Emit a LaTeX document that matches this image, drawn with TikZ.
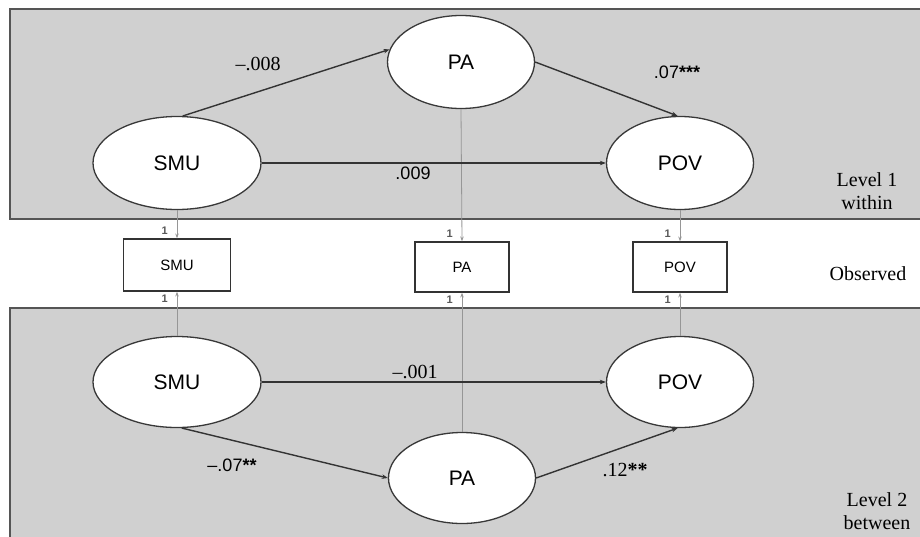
\documentclass[tikz,border=0pt]{standalone}
\usepackage{fontspec}
\setmainfont{Liberation Serif}
\setsansfont{Liberation Sans}
\usetikzlibrary{arrows.meta, shapes.geometric, positioning}
\definecolor{panelgray}{RGB}{208,208,208}
\definecolor{edgegray}{RGB}{85,85,85}
\definecolor{linkgray}{RGB}{150,150,150}
\newcommand{\stars}[1]{\textbf{#1}}
\tikzset{
  >=Stealth,
  latent/.style  = {draw=black!78, ellipse, line width=1.3pt, fill=white,
                    minimum width=147pt, minimum height=93pt, inner sep=0pt,
                    font=\sffamily\fontsize{21}{21}\selectfont},
  obs/.style     = {draw=black!80, rectangle, line width=1.2pt, fill=white,
                    minimum width=94pt, minimum height=50pt, inner sep=0pt,
                    font=\sffamily\fontsize{15}{15}\selectfont},
  level/.style   = {draw=edgegray, line width=1.8pt, fill=panelgray},
  regr/.style    = {-{Stealth[length=6pt, width=4.5pt]}, line width=1.4pt, black!80},
  loading/.style = {-{Stealth[length=5pt, width=3.5pt]}, line width=0.8pt, linkgray},
  coef/.style    = {font=\sffamily\fontsize{18}{18}\selectfont, text=black},
  coefr/.style   = {font=\fontsize{20}{20}\selectfont, text=black},
  one/.style     = {font=\sffamily\bfseries\fontsize{11}{11}\selectfont,
                    text=black!65, inner sep=0pt},
  tag/.style     = {font=\fontsize{20}{23}\selectfont, align=center, text=black},
}

\begin{document}
\begin{tikzpicture}[x=1pt, y=-1pt]
  \path[use as bounding box, clip] (0,0) rectangle (920,536);

  % panels
  \draw[level] (10,9) rectangle (940,219);
  \draw[level] (10,308) rectangle (940,560);

  % level 1 (within)
  \node[latent, minimum width=168pt] (smuW) at (177,163) {SMU};
  \node[latent]                      (paW)  at (461,62)  {PA};
  \node[latent]                      (povW) at (680,163) {POV};

  % observed
  \node[obs, minimum width=107pt, minimum height=52pt] (smuO) at (177,265) {SMU};
  \node[obs] (paO)  at (462,267) {PA};
  \node[obs] (povO) at (680,267) {POV};

  % level 2 (between)
  \node[latent, minimum width=168pt, minimum height=91pt] (smuB) at (177,382) {SMU};
  \node[latent, minimum height=91pt] (povB) at (680,382) {POV};
  \node[latent, minimum height=91pt] (paB)  at (462,478) {PA};

  % loadings
  \foreach \n in {smu, pa, pov} {
    \draw[loading] (\n W.south) -- (\n O.north);
    \draw[loading] (\n B.north) -- (\n O.south);
    \node[one, above left=4pt and 9pt of \n O.north] {1};
    \node[one, below left=3pt and 9pt of \n O.south] {1};
  }

  % structural paths
  \draw[regr] (smuW.83)   -- (paW.170);
  \draw[regr] (paW.east)  -- (povW.93);
  \draw[regr] (smuW.east) -- (povW.west);
  \draw[regr] (smuB.east) -- (povB.west);
  \draw[regr] (smuB.-84)  -- (paB.west);
  \draw[regr] (paB.east)  -- (povB.-93);

  \node[coefr] (c1) at (258,64)  {--.008};
  \node[coef]  (c2) at (677,72)  {.07\stars{***}};
  \node[coef]  (c3) at (413,173) {.009};
  \node[coefr] (c4) at (415,372) {--.001};
  \node[coef]  (c5) at (232,465) {--.07\stars{**}};
  \node[coefr] (c6) at (625,470) {.12\stars{**}};

  \node[tag] (lev1) at (867,191) {Level 1\\within};
  \node[tag] (obsd) at (868,274) {Observed};
  \node[tag] (lev2) at (877,511) {Level 2\\between};
\end{tikzpicture}
\end{document}
